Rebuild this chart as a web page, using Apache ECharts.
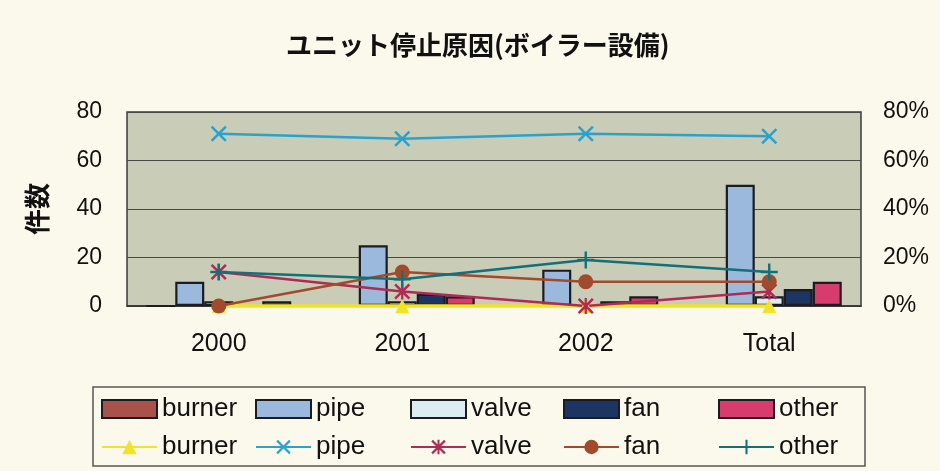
<!DOCTYPE html>
<html>
<head>
<meta charset="utf-8">
<script src="https://cdn.jsdelivr.net/npm/echarts@6/dist/echarts.min.js"></script>
<style>
html,body{margin:0;padding:0;background:#fbf9ec;}
#c{width:940px;height:471px;}
</style>
</head>
<body>
<div id="c"></div>
<script>
const categories = ['2000', '2001', '2002', 'Total'];
const seriesNames = ['burner', 'pipe', 'valve', 'fan', 'other'];
// counts (bars, left axis)
const burnerCount = [0, 0, 0, 0];
const pipeCount = [10, 25, 15, 50];
const valveCount = [2, 2, 0, 4];
const fanCount = [0, 5, 2, 7];
const otherCount = [2, 4, 4, 10];
// shares (lines, right axis)
const burnerShare = [0, 0, 0, 0];
const pipeShare = [0.71, 0.69, 0.71, 0.70];
const valveShare = [0.14, 0.06, 0.00, 0.06];
const fanShare = [0.00, 0.14, 0.10, 0.10];
const otherShare = [0.14, 0.11, 0.19, 0.14];
const leftTicks = [0, 20, 40, 60, 80];
const rightTicks = ['0%', '20%', '40%', '60%', '80%'];

const counts = [burnerCount, pipeCount, valveCount, fanCount, otherCount];
const shares = [burnerShare, pipeShare, valveShare, fanShare, otherShare];

const barColors = ['#a8524a', '#9bb9dd', '#dcedf2', '#1c3562', '#d83c6c'];
const lineColors = ['#f2e22a', '#2aa2cc', '#b02a55', '#a24a2c', '#127078'];
const P = 'path://';
const symTimes = P + 'M0,1.1L1.1,0L5,3.9L8.9,0L10,1.1L6.1,5L10,8.9L8.9,10L5,6.1L1.1,10L0,8.9L3.9,5Z';
const symAst = P + 'M0,1.1L1.1,0L5,3.9L8.9,0L10,1.1L6.1,5L10,8.9L8.9,10L5,6.1L1.1,10L0,8.9L3.9,5Z M4.3,0H5.7V10H4.3Z';
const symPlus = P + 'M4.3,0H5.7V4.3H10V5.7H5.7V10H4.3V5.7H0V4.3H4.3Z';
const symbols = ['triangle', symTimes, symAst, 'circle', symPlus];
const symSizes = [14, 16, 16, 15, 17];

const chart = echarts.init(document.getElementById('c'));
const font = 'Liberation Sans, Arial, sans-serif';

const series = [];
seriesNames.forEach((n, i) => {
  series.push({
    name: n + '|bar', type: 'bar', data: counts[i], yAxisIndex: 0,
    barWidth: 29, barGap: '0%',
    itemStyle: { color: barColors[i], borderColor: '#1b1b22', borderWidth: 2.2 }
  });
});
seriesNames.forEach((n, i) => {
  series.push({
    name: n + '|line', type: 'line', data: shares[i], yAxisIndex: 1,
    symbol: symbols[i], symbolSize: symSizes[i], z: 5, clip: false,
    lineStyle: { color: lineColors[i], width: i === 0 ? 3.5 : 2.5 },
    itemStyle: { color: lineColors[i] }
  });
});

const legendLeft = [101, 255, 410, 563, 718];
const legends = seriesNames.map((n, i) => ({
  orient: 'vertical', left: legendLeft[i], top: 395, height: 76,
  itemWidth: 55, itemHeight: 18, itemGap: 10, itemTextGap: 7,
  selectedMode: false, padding: 0,
  data: [{ name: n + '|bar', icon: 'rect' }, { name: n + '|line' }],
  formatter: s => s.split('|')[0],
  textStyle: { fontSize: 26, lineHeight: 28, color: '#111', fontFamily: font }
}));

chart.setOption({
  backgroundColor: '#fbf9ec',
  animation: false,
  title: {
    text: 'ユニット停止原因(ボイラー設備)', left: 281, top: 27,
    textStyle: { fontSize: 26, fontWeight: 'bold', color: '#111', fontFamily: 'Noto Sans CJK JP' }
  },
  legend: legends,
  grid: { left: 127, right: 79, top: 112, bottom: 165, show: true, backgroundColor: '#c9ccb6', borderColor: '#3a3a3a', borderWidth: 1.5 },
  xAxis: {
    type: 'category', data: categories,
    axisLine: { lineStyle: { color: '#333', width: 1.5 } },
    axisTick: { inside: true, length: 6, lineStyle: { color: '#444' } },
    axisLabel: { fontSize: 25, color: '#111', margin: 26, fontFamily: font }
  },
  yAxis: [{
    type: 'value', min: 0, max: 80, interval: 20,
    name: '件数', nameLocation: 'middle', nameRotate: 90, nameGap: 77,
    nameTextStyle: { fontSize: 26, fontWeight: 'bold', color: '#111', fontFamily: 'Noto Sans CJK JP' },
    axisLine: { show: false }, axisTick: { show: false },
    axisLabel: { fontSize: 23, color: '#111', margin: 25, fontFamily: font, formatter: v => String(leftTicks[v / 20]) },
    splitLine: { lineStyle: { color: '#4a4a4a', width: 1 } }
  }, {
    type: 'value', min: 0, max: 0.8, interval: 0.2, position: 'right',
    axisLine: { show: false }, axisTick: { show: false },
    axisLabel: { fontSize: 23, color: '#111', margin: 22, fontFamily: font, formatter: v => rightTicks[Math.round(v / 0.2)] },
    splitLine: { show: false }
  }],
  graphic: [{
    type: 'rect', shape: { x: 93, y: 387, width: 772, height: 79 },
    style: { fill: 'none', stroke: '#555', lineWidth: 1.5 }, z: -1
  }],
  series: series
});
</script>
</body>
</html>
